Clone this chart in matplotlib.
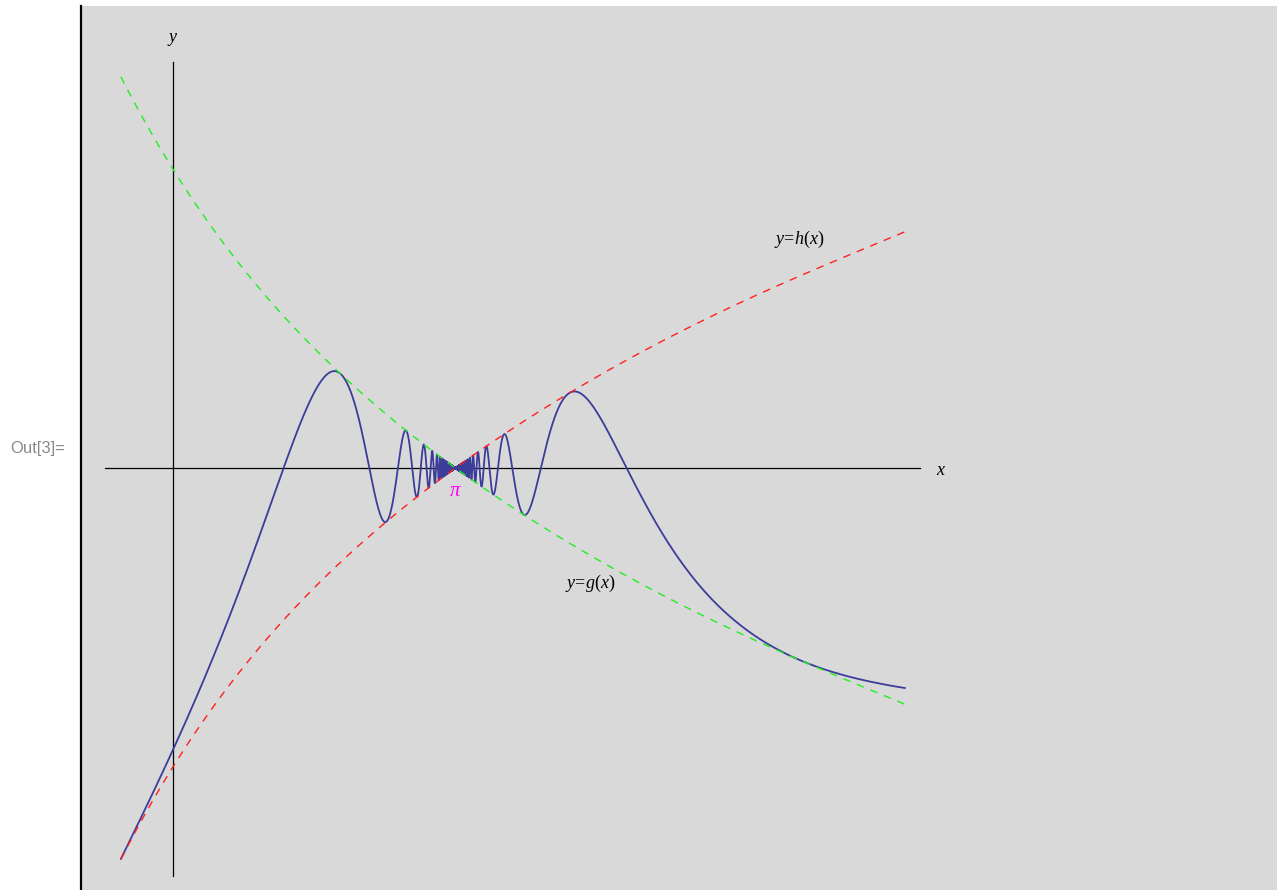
import numpy as np
import matplotlib.pyplot as plt

plt.rcParams['mathtext.fontset'] = 'custom'
plt.rcParams['mathtext.rm'] = 'Liberation Serif'
plt.rcParams['mathtext.it'] = 'Liberation Serif:italic'

# upper envelope g(x), sampled along the green curve; h(x) = -g(x)
env_x = [-0.58, 0.0, 1.0, 2.0, 3.0, np.pi, 4.0, 5.0, 6.0, 7.0, 8.15]
env_g = [4.36, 3.32, 1.96, 0.93, 0.10, 0.0, -0.58, -1.17, -1.69, -2.15, -2.63]
x_start, x_end = -0.58, 8.15
freq = 6.0

coef = np.polyfit(env_x, env_g, 5)
x = np.linspace(x_start, x_end, 400)
g = np.polyval(coef, x)
h = -g

# the squeezed curve: dense sampling near pi
xf = np.concatenate([np.linspace(x_start, np.pi - 1e-4, 120000),
                     np.linspace(np.pi + 1e-4, x_end, 120000)])
gf = np.polyval(coef, xf)
f = gf * np.sin(freq / (xf - np.pi))

fig = plt.figure(figsize=(12.77, 8.90), dpi=100)
fig.patch.set_facecolor('white')
ax = fig.add_axes([82 / 1277, 0, 1195 / 1277, 884 / 890])
ax.set_xlim(-1.013, 12.294)
ax.set_ylim(-4.699, 5.145)
ax.set_axis_off()
ax.add_patch(plt.Rectangle((0, 0), 1, 1, transform=ax.transAxes,
                           color='#d9d9d9', zorder=0))

# axes lines
ax.plot([-0.757, 8.318], [0, 0], color='black', lw=0.9, zorder=1)
ax.plot([0, 0], [-4.54, 4.52], color='black', lw=0.9, zorder=1)
ax.text(8.55, -0.02, r'$x$', fontsize=13, ha='center', va='center')
ax.text(0, 4.78, r'$y$', fontsize=13, ha='center', va='center')

ax.plot(xf, f, color='#3c3c9a', lw=1.3, zorder=2)
ax.plot(x, g, color='#22ee22', lw=1.0, dashes=(5.5, 5), zorder=3)
ax.plot(x, h, color='#ff2020', lw=1.0, dashes=(5.5, 5), zorder=3)

ax.text(np.pi, -0.25, r'$\pi$', color='#ff00ff', fontsize=15,
        ha='center', va='center')
ax.text(6.97, 2.55, r'$y\!=\!h(x)$', fontsize=13, ha='center', va='center')
ax.text(4.65, -1.28, r'$y\!=\!g(x)$', fontsize=13, ha='center', va='center')

# notebook frame
fig.add_artist(plt.Line2D([80.5 / 1277, 80.5 / 1277], [0, 884 / 890],
                          color='black', lw=1.6))
fig.text(38 / 1277, 1 - 449 / 890, 'Out[3]=', color='#8a8a8a', fontsize=12,
         family='Liberation Sans', ha='center', va='center')

fig.savefig('out.png', dpi=100)
